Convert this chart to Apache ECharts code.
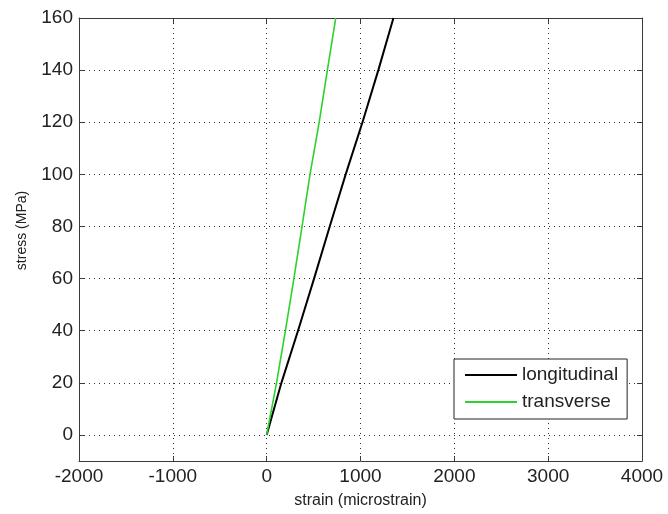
<!DOCTYPE html>
<html>
<head>
<meta charset="utf-8">
<script src="https://cdn.jsdelivr.net/npm/echarts@6/dist/echarts.min.js"></script>
<style>
html,body{margin:0;padding:0;background:#fff;}
#c{width:668px;height:514px;}
</style>
</head>
<body>
<div id="c"></div>
<script>
var stressLevels = [0, 20, 40, 60, 80, 100, 120, 140, 160];
var longitudinalStrain = [0, 157, 334, 505, 672, 842, 1021, 1190, 1351];
var transverseStrain = [0, 105, 200, 290, 377, 462, 560, 647, 736];
var xTicks = [-2000, -1000, 0, 1000, 2000, 3000, 4000];
var yTicks = [0, 20, 40, 60, 80, 100, 120, 140, 160];
var seriesNames = ['longitudinal', 'transverse'];

function pairs(xs, ys) { return xs.map(function (x, i) { return [x, ys[i]]; }); }

var FONT = '"Liberation Sans", Arial, sans-serif';
var axisLineColor = '#3a3a3a';
var gridLine = { show: true, lineStyle: { color: '#333', width: 1, type: [1, 4] } };
var plain = function (v) { return String(v); };

var chart = echarts.init(document.getElementById('c'), null, { renderer: 'canvas' });
chart.setOption({
  backgroundColor: '#fff',
  animation: false,
  grid: { left: 79, right: 26, top: 18, bottom: 53, containLabel: false },
  xAxis: [{
    type: 'value', min: xTicks[0], max: xTicks[xTicks.length - 1], interval: 1000, position: 'bottom',
    name: 'strain (microstrain)', nameLocation: 'middle', nameGap: 32,
    nameTextStyle: { fontFamily: FONT, fontSize: 16, color: '#222' },
    axisLine: { show: true, onZero: false, lineStyle: { color: axisLineColor, width: 1 } },
    axisTick: { show: true, inside: true, length: 5, lineStyle: { color: axisLineColor } },
    axisLabel: { fontFamily: FONT, fontSize: 19, color: '#222', margin: 6, formatter: plain },
    splitLine: gridLine
  }, {
    type: 'value', min: xTicks[0], max: xTicks[xTicks.length - 1], interval: 1000, position: 'top',
    axisLine: { show: true, onZero: false, lineStyle: { color: axisLineColor, width: 1 } },
    axisTick: { show: true, inside: true, length: 5, lineStyle: { color: axisLineColor } },
    axisLabel: { show: false }, splitLine: { show: false }
  }],
  yAxis: [{
    type: 'value', min: -10, max: 160, position: 'left',
    name: 'stress (MPa)', nameLocation: 'middle', nameGap: 50, nameRotate: 90,
    nameTextStyle: { fontFamily: FONT, fontSize: 14, color: '#222', padding: [0, 0, 0, 18] },
    axisLine: { show: true, onZero: false, lineStyle: { color: axisLineColor, width: 1 } },
    axisTick: { show: true, inside: true, length: 5, customValues: yTicks, lineStyle: { color: axisLineColor } },
    axisLabel: { fontFamily: FONT, fontSize: 19, color: '#222', margin: 6, customValues: yTicks, formatter: plain },
    splitLine: gridLine
  }, {
    type: 'value', min: -10, max: 160, position: 'right',
    axisLine: { show: true, onZero: false, lineStyle: { color: axisLineColor, width: 1 } },
    axisTick: { show: true, inside: true, length: 5, customValues: yTicks, lineStyle: { color: axisLineColor } },
    axisLabel: { show: false, customValues: yTicks }, splitLine: { show: false }
  }],
  legend: {
    left: 454, top: 359, orient: 'vertical',
    backgroundColor: '#fff', borderColor: '#222', borderWidth: 1,
    padding: [6, 9, 7, 11], itemGap: 7, itemWidth: 52, itemHeight: 2,
    icon: 'rect',
    textStyle: { fontFamily: FONT, fontSize: 19, color: '#222', lineHeight: 20 },
    data: seriesNames
  },
  series: [{
    name: seriesNames[0], type: 'line', showSymbol: false, symbol: 'none',
    data: pairs(longitudinalStrain, stressLevels),
    lineStyle: { color: '#000', width: 2 }, itemStyle: { color: '#000' }
  }, {
    name: seriesNames[1], type: 'line', showSymbol: false, symbol: 'none',
    data: pairs(transverseStrain, stressLevels),
    lineStyle: { color: '#2fd12f', width: 1.6 }, itemStyle: { color: '#2fd12f' }
  }]
});
</script>
</body>
</html>
